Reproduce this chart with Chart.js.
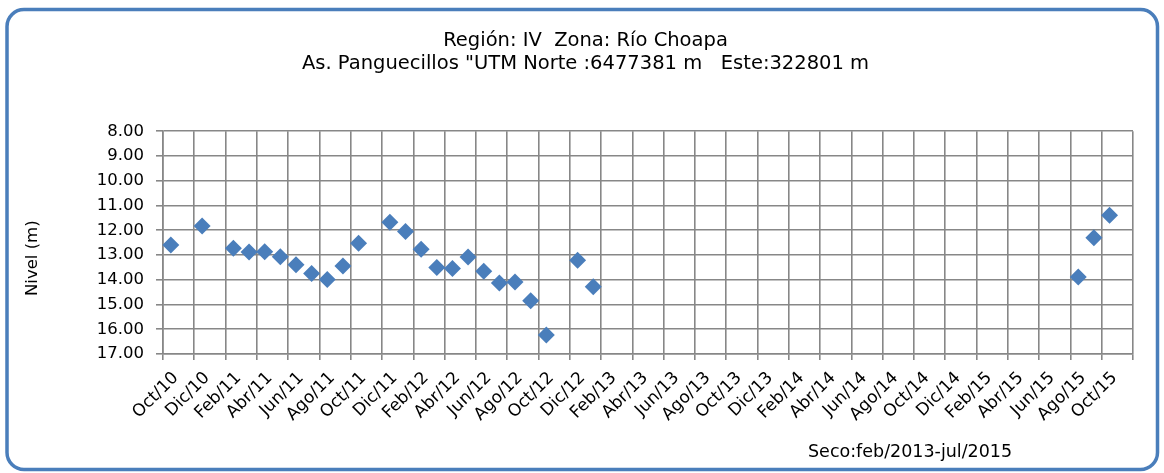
<!DOCTYPE html>
<html>
<head>
<meta charset="utf-8">
<script src="https://cdn.jsdelivr.net/npm/chart.js@4/dist/chart.umd.min.js"></script>
<style>
  html, body { margin: 0; padding: 0; background: #ffffff; }
  #wrap { position: relative; width: 1164px; height: 473px; }
</style>
</head>
<body>
<div id="wrap"><canvas id="grafico" width="1164" height="473"></canvas></div>
<script>
// Month abbreviations used on the time axis (Spanish)
const mesesAbrev = ['Ene', 'Feb', 'Mar', 'Abr', 'May', 'Jun', 'Jul', 'Ago', 'Sep', 'Oct', 'Nov', 'Dic'];

// One category per month, Oct/2010 through Nov/2015
const categoriasMes = [];
for (let anio = 2010; anio <= 2015; anio++) {
  for (let m = 0; m < 12; m++) {
    if (anio === 2010 && m < 9) continue;
    if (anio === 2015 && m > 10) continue;
    categoriasMes.push(mesesAbrev[m] + '/' + String(anio).slice(2));
  }
}

// Measurement months and static water level (m)
const fechasMedicion = [
  'Oct/10', 'Dic/10', 'Feb/11', 'Mar/11', 'Abr/11', 'May/11', 'Jun/11', 'Jul/11', 'Ago/11',
  'Sep/11', 'Oct/11', 'Dic/11', 'Ene/12', 'Feb/12', 'Mar/12', 'Abr/12', 'May/12', 'Jun/12',
  'Jul/12', 'Ago/12', 'Sep/12', 'Oct/12', 'Dic/12', 'Ene/13', 'Ago/15', 'Sep/15', 'Oct/15'
];
const niveles = [
  12.60, 11.83, 12.73, 12.88, 12.87, 13.07, 13.39, 13.75, 13.99,
  13.44, 12.53, 11.68, 12.05, 12.77, 13.51, 13.55, 13.08, 13.66,
  14.13, 14.09, 14.85, 16.23, 13.21, 14.28, 13.89, 12.30, 11.39
];

// Y axis range (depth, reversed)
const nivelMin = 8;
const nivelMax = 17;

const tituloLineas = [
  'Región: IV  Zona: Río Choapa',
  'As. Panguecillos "UTM Norte :6477381 m   Este:322801 m'
];
const tituloEjeY = 'Nivel (m)';
const notaPeriodo = 'Seco:feb/2013-jul/2015';

const FUENTE = '"DejaVu Sans", Verdana, sans-serif';
const GRIS = '#878787';

const puntos = fechasMedicion.map((f, i) => ({ x: f, y: niveles[i] }));

// White background, rounded frame, y-axis caption and the dry-period note
const marcoYNota = {
  id: 'marcoYNota',
  beforeDraw(chart) {
    const ctx = chart.ctx;
    ctx.save();
    ctx.fillStyle = '#ffffff';
    ctx.fillRect(0, 0, chart.width, chart.height);
    ctx.restore();
  },
  afterDraw(chart) {
    const ctx = chart.ctx;
    const area = chart.chartArea;
    ctx.save();
    ctx.strokeStyle = '#4a7ebb';
    ctx.lineWidth = 3.5;
    ctx.beginPath();
    ctx.roundRect(7, 9.5, chart.width - 13.5, chart.height - 13, 17);
    ctx.stroke();

    ctx.fillStyle = '#000000';
    ctx.font = '16.5px ' + FUENTE;
    ctx.textAlign = 'center';
    ctx.textBaseline = 'middle';
    ctx.save();
    ctx.translate(33, area.top + area.height * 0.57);
    ctx.rotate(-Math.PI / 2);
    ctx.fillText(tituloEjeY, 0, 0);
    ctx.restore();

    ctx.font = '17.5px ' + FUENTE;
    ctx.textAlign = 'left';
    ctx.fillText(notaPeriodo, 808, 452);
    ctx.restore();
  }
};

new Chart(document.getElementById('grafico'), {
  type: 'line',
  data: {
    labels: categoriasMes,
    datasets: [{
      label: 'Nivel',
      data: puntos,
      showLine: false,
      pointStyle: 'rectRot',
      pointRadius: 8.5,
      pointHoverRadius: 8.5,
      pointBackgroundColor: '#4a7ebb',
      pointBorderColor: '#4a7ebb',
      pointBorderWidth: 0
    }]
  },
  options: {
    responsive: false,
    animation: false,
    events: [],
    layout: { padding: { left: 38, right: 31, top: 18, bottom: 0 } },
    plugins: {
      legend: { display: false },
      tooltip: { enabled: false },
      title: {
        display: true,
        text: tituloLineas,
        color: '#000000',
        font: { family: FUENTE, size: 19.5, weight: 'normal', lineHeight: 1.16 },
        padding: { top: 12, bottom: 56 }
      }
    },
    scales: {
      x: {
        type: 'category',
        offset: true,
        afterFit(scale) { scale.height = 119; },
        grid: {
          offset: true,
          lineWidth: 1.6,
          tickLength: 6,
          color: (c) => (c.index === undefined || c.index % 2 === 0) ? GRIS : 'rgba(0,0,0,0)'
        },
        border: { color: GRIS, width: 1.6 },
        ticks: {
          autoSkip: false,
          maxRotation: 45,
          minRotation: 45,
          padding: 8,
          labelOffset: 5,
          color: '#000000',
          font: { family: FUENTE, size: 17 },
          callback(value, index) { return index % 2 === 0 ? this.getLabelForValue(value) : ''; }
        }
      },
      y: {
        reverse: true,
        min: nivelMin,
        max: nivelMax,
        afterFit(scale) { scale.width = 125; },
        grid: { color: GRIS, lineWidth: 1.6, tickLength: 7 },
        border: { color: GRIS, width: 1.6 },
        ticks: {
          stepSize: 1,
          padding: 12,
          color: '#000000',
          font: { family: FUENTE, size: 16.5 },
          callback: (v) => Number(v).toFixed(2)
        }
      }
    }
  },
  plugins: [marcoYNota]
});
</script>
</body>
</html>
